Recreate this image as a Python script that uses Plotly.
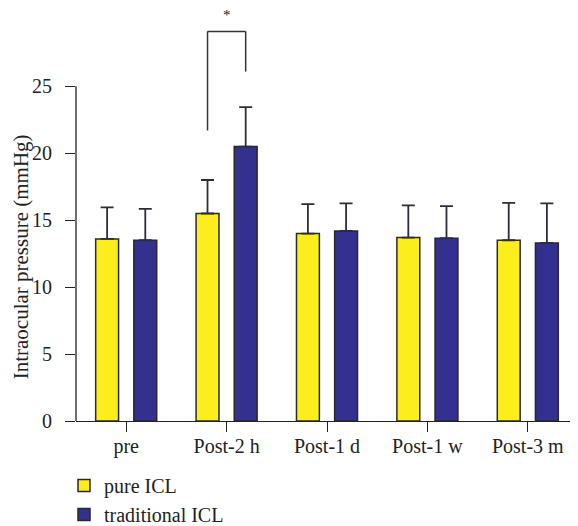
import plotly.graph_objects as go

categories = ["pre", "Post-2 h", "Post-1 d", "Post-1 w", "Post-3 m"]
pure_icl = [13.6, 15.5, 14.0, 13.7, 13.5]
pure_icl_sd = [2.35, 2.5, 2.2, 2.4, 2.8]
trad_icl = [13.5, 20.5, 14.2, 13.65, 13.3]
trad_icl_sd = [2.35, 2.95, 2.05, 2.4, 2.95]
y_ticks = [0, 5, 10, 15, 20, 25]
y_title = "Intraocular pressure (mmHg)"

# significance bracket between pure/traditional at Post-2 h
sig_left_bottom = 21.7
sig_right_bottom = 26.1
sig_top = 29.1
sig_star_y = 30.3

FONT = "Liberation Serif"
YELLOW = "#FBEE1C"
NAVY = "#33308F"
EDGE = "#2a2a2a"
INK = "#222222"

fig = go.Figure()
fig.add_trace(go.Bar(
    name="pure ICL", x=categories, y=pure_icl,
    marker=dict(color=YELLOW, line=dict(color=EDGE, width=1.5)),
    error_y=dict(type="data", array=pure_icl_sd, arrayminus=[0]*5, symmetric=False,
                 color="#2b2d3a", thickness=1.8, width=6.5),
))
fig.add_trace(go.Bar(
    name="traditional ICL", x=categories, y=trad_icl,
    marker=dict(color=NAVY, line=dict(color=EDGE, width=1.5)),
    error_y=dict(type="data", array=trad_icl_sd, arrayminus=[0]*5, symmetric=False,
                 color="#2b2d3a", thickness=1.8, width=6.5),
))

bargap = 0.24
slot = (1 - bargap) / 2
xl = 1 - slot / 2
xr = 1 + slot / 2
line_style = dict(color="#333333", width=1.5)
fig.add_shape(type="line", xref="x", yref="y", x0=xl, x1=xl, y0=sig_left_bottom, y1=sig_top, line=line_style)
fig.add_shape(type="line", xref="x", yref="y", x0=xl, x1=xr, y0=sig_top, y1=sig_top, line=line_style)
fig.add_shape(type="line", xref="x", yref="y", x0=xr, x1=xr, y0=sig_right_bottom, y1=sig_top, line=line_style)
fig.add_annotation(x=1, y=sig_star_y, xref="x", yref="y", text="*", showarrow=False,
                   font=dict(family=FONT, size=15, color=INK))

# y axis line only up to the last tick
fig.add_shape(type="line", xref="paper", yref="y", x0=0, x1=0, y0=0, y1=y_ticks[-1],
              line=dict(color=INK, width=1.3))

# y axis title
fig.add_annotation(x=-0.1096, y=12.3, xref="paper", yref="y", text=y_title, textangle=-90,
                   showarrow=False, xanchor="center", yanchor="middle",
                   font=dict(family=FONT, size=21, color=INK))

fig.update_layout(
    width=570, height=518,
    margin=dict(l=68, r=0, t=2, b=105, autoexpand=False),
    paper_bgcolor="white", plot_bgcolor="white",
    barmode="group", bargap=bargap, bargroupgap=0.4,
    font=dict(family=FONT, size=20, color=INK),
    showlegend=True,
    legend=dict(
        orientation="v", xref="container", yref="container",
        x=56 / 570, y=(518 - 458) / 518, xanchor="left", yanchor="top",
        font=dict(family=FONT, size=20, color=INK),
        itemwidth=30, bgcolor="rgba(0,0,0,0)",
    ),
    xaxis=dict(
        range=[-0.5, 4.5], showline=True, linecolor=INK, linewidth=1.3,
        ticks="outside", ticklen=10, tickcolor=INK, tickwidth=1.3, tickangle=0,
        automargin=False, ticklabelstandoff=-3,
        showgrid=False, zeroline=False, tickfont=dict(family=FONT, size=20, color=INK),
    ),
    yaxis=dict(
        range=[0, 30.7], showline=False, showgrid=False, zeroline=False, automargin=False,
        tickvals=y_ticks, ticks="outside", ticklen=10, tickcolor=INK, tickwidth=1.3,
        tickfont=dict(family=FONT, size=20, color=INK), ticklabelstandoff=9,
    ),
)

fig.write_html("out.html")
